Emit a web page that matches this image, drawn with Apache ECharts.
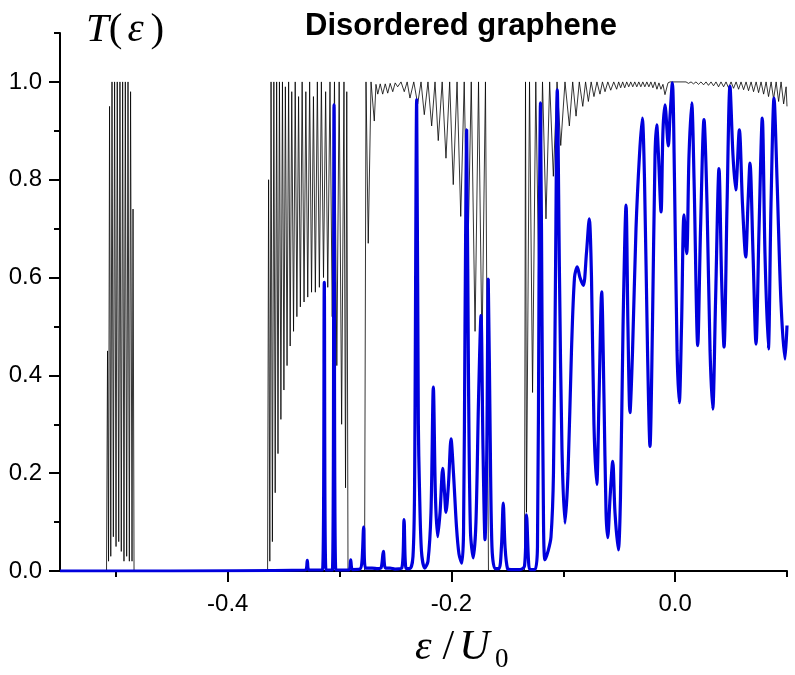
<!DOCTYPE html>
<html><head><meta charset="utf-8">
<script src="https://cdn.jsdelivr.net/npm/echarts@6.0.0/dist/echarts.min.js"></script>
<style>html,body{margin:0;padding:0;background:#fff}#c{width:795px;height:675px}</style>
</head><body><div id="c"></div>
<script>
// tick positions
const xLabelTicks = [-0.4, -0.2, 0.0];
const xMinorTicks = [-0.5, -0.3, -0.1, 0.1];
const yLabelTicks = [0, 0.2, 0.4, 0.6, 0.8, 1.0];
const yMinorTicks = [0.1, 0.3, 0.5, 0.7, 0.9, 1.1];

// thin black curve (ordered reference)
const blackE = [-0.55,-0.5084,-0.5075,-0.5066,-0.5057,-0.5046,-0.5035,-0.5023,-0.5012,-0.4999,-0.4988,-0.4975,-0.4964,-0.4952,-0.4940,-0.4928,-0.4916,-0.4904,-0.4892,-0.4880,-0.4869,-0.4856,-0.4847,-0.4838,
-0.3644,-0.3635,-0.3624,-0.3613,-0.3601,-0.3588,-0.3576,-0.3563,-0.3551,-0.3538,-0.3525,-0.3511,-0.3498,-0.3485,-0.3470,-0.3456,-0.3442,-0.3428,-0.3412,-0.3397,-0.3382,-0.3367,-0.3351,-0.3335,-0.3318,-0.3302,-0.3285,-0.3268,-0.3251,-0.3234,-0.3217,-0.3199,-0.3181,-0.3163,-0.3144,-0.3125,-0.3106,-0.3086,-0.3066,-0.3046,-0.3025,-0.3004,-0.2982,-0.2961,-0.2947,-0.2936,-0.2925,
-0.2777,-0.2764,-0.2744,-0.2719,-0.2690,-0.2675,-0.2659,-0.2637,-0.2615,-0.2592,-0.2570,-0.2548,-0.2525,-0.2503,-0.2481,-0.2451,-0.2422,-0.2396,-0.2371,-0.2337,-0.2302,-0.2272,-0.2243,-0.2210,-0.2177,-0.2147,-0.2118,-0.2083,-0.2049,-0.2016,-0.1984,-0.1950,-0.1917,-0.1886,-0.1855,-0.1823,-0.1789,-0.1758,-0.1727,-0.1696,-0.1669,
-0.1347,-0.1338,-0.1329,-0.1302,-0.1275,-0.1246,-0.1217,-0.1186,-0.1155,-0.1122,-0.1089,-0.1056,-0.1023,-0.0985,-0.0946,-0.0916,-0.0886,-0.0857,-0.0826,-0.0801,-0.0776,-0.0751,-0.0726,-0.0699,-0.0672,-0.0650,-0.0627,-0.0602,-0.0576,-0.0549,-0.0523,
-0.0505,-0.0487,-0.0469,-0.0451,-0.0433,-0.0415,-0.0397,-0.0379,-0.0361,-0.0343,-0.0325,-0.0307,-0.0289,-0.0271,-0.0253,-0.0235,-0.0217,-0.0199,-0.0181,-0.0163,-0.0145,-0.0127,-0.0109,-0.0091,-0.0064,-0.0046,
0.0097,0.0119,0.0142,0.0164,0.0186,0.0209,0.0231,0.0254,0.0276,0.0298,0.0321,0.0343,0.0365,0.0388,0.0410,0.0433,0.0455,0.0477,0.0500,0.0522,0.0545,0.0567,0.0589,0.0612,0.0634,0.0656,0.0679,0.0701,0.0724,0.0746,0.0768,0.0791,0.0813,0.0835,0.0858,0.0880,0.0903,0.0925,0.0947,0.0970,0.0992,0.1000];
const blackT = [0,0,0.45,0.02,0.95,0.03,1.0,0.07,1.0,0.05,1.0,0.06,1.0,0.04,1.0,0.02,1.0,0.03,1.0,0.02,0.98,0.02,0.74,0,
0,0.8,0.02,1.0,0.06,1.0,0.16,1.0,0.24,1.0,0.31,1.0,0.37,0.99,0.42,1.0,0.46,0.98,0.49,1.0,0.52,0.97,0.54,1.0,0.55,0.98,0.56,1.0,0.57,0.97,0.57,1.0,0.58,1.0,0.60,0.98,0.58,1.0,0.52,1.0,0.42,1.0,0.30,1.0,0.17,0.98,0,
0,1.0,0.67,1.0,0.92,0.995,0.975,0.996,0.975,0.996,0.977,0.997,0.98,0.998,0.99,1.0,0.98,1.0,0.967,1.0,0.955,1.0,0.933,1.0,0.91,1.0,0.88,1.0,0.844,1.0,0.79,1.0,0.725,1.0,0.62,1.0,0.49,1.0,0.45,1.0,0,
0,1.0,0.12,1.0,0.365,1.0,0.56,1.0,0.72,1.0,0.807,1.0,0.87,1.0,0.91,1.0,0.93,1.0,0.95,1.0,0.96,1.0,0.97,1.0,0.975,1.0,0.98,1.0,0.983,1.0,0.985,
1.0,0.988,1.0,0.988,1.0,0.99,1.0,0.99,1.0,0.99,1.0,0.99,1.0,0.99,1.0,0.99,1.0,0.988,1.0,0.985,0.998,0.985,0.995,0.974,0.998,1.0,
1.0,0.997,1.0,0.996,1.0,0.995,1.0,0.994,1.0,0.993,1.0,0.992,1.0,0.99,1.0,0.99,1.0,0.988,1.0,0.987,1.0,0.985,1.0,0.984,1.0,0.982,1.0,0.98,1.0,0.978,1.0,0.975,1.0,0.97,1.0,0.965,1.0,0.96,1.0,0.955,0.99,0.95];

// thick blue curve (disordered graphene)
const blueE = [-0.55,-0.3305,-0.3289,-0.3274,-0.3153,-0.3137,-0.3122,-0.3065,-0.3050,-0.3034,-0.2916,-0.2901,-0.2885,-0.2818,-0.2800,-0.2785,-0.2769,-0.2710,-0.2657,-0.2630,-0.2609,-0.2590,-0.2549,-0.2505,-0.2444,-0.2424,-0.2405,
-0.2371,-0.2344,-0.2330,-0.2311,-0.2296,-0.2286,-0.2268,-0.2239,-0.2210,-0.2183,-0.2162,-0.2143,-0.2123,-0.2102,-0.2078,-0.2062,-0.2049,-0.2026,-0.2004,-0.1982,-0.1955,-0.1933,-0.1908,-0.1892,-0.1879,-0.1864,-0.1848,-0.1830,-0.1805,-0.1781,-0.1758,-0.1736,-0.1718,-0.1700,-0.1684,-0.1671,-0.1655,-0.1638,-0.1611,-0.1575,-0.1553,-0.1537,-0.1521,-0.1499,-0.1468,-0.1387,
-0.1347,-0.1329,-0.1311,-0.1298,-0.1253,-0.1231,-0.1217,-0.1204,-0.1190,-0.1177,-0.1164,-0.1137,-0.1110,-0.1088,-0.1070,-0.1054,-0.1034,-0.1012,-0.0985,-0.0958,-0.0927,-0.0900,-0.0875,-0.0851,-0.0821,-0.0793,-0.0768,-0.0748,-0.0726,-0.0701,-0.0681,-0.0657,-0.0636,-0.0618,-0.0603,-0.0582,-0.0558,-0.0538,-0.0508,-0.0489,-0.0466,-0.0439,-0.0422,-0.0404,-0.0381,-0.0350,-0.0319,-0.0294,-0.0274,-0.0247,-0.0225,-0.0203,-0.0180,-0.0165,-0.0149,-0.0126,-0.0109,-0.0091,-0.0061,-0.0046,-0.0025,-0.0006,
0.0017,0.0037,0.0057,0.0079,0.0103,0.0124,0.0148,0.0169,0.0202,0.0227,0.0258,0.0285,0.0312,0.0336,0.0361,0.0392,0.0415,0.0437,0.0464,0.0490,0.0517,0.0541,0.0574,0.0602,0.0631,0.0651,0.0669,0.0696,0.0723,0.0750,0.0779,0.0803,0.0833,0.0857,0.0884,0.0911,0.0946,0.0982,0.1000];
const blueT = [0,0.002,0.022,0.002,0.002,0.59,0.002,0.002,0.953,0.002,0.002,0.023,0.003,0.004,0.02,0.09,0.006,0.006,0.005,0.006,0.04,0.006,0.006,0.004,0.006,0.105,0.005,
0.005,0.03,0.166,0.964,0.3,0.17,0.04,0.006,0.02,0.12,0.376,0.15,0.07,0.12,0.21,0.16,0.12,0.18,0.27,0.2,0.09,0.035,0.016,0.08,0.5,0.902,0.4,0.08,0.027,0.1,0.35,0.522,0.25,0.064,0.25,0.597,0.3,0.05,0.005,0.005,0.05,0.139,0.05,0.005,0.003,0.003,
0.01,0.115,0.02,0.003,0.003,0.05,0.6,0.957,0.5,0.1,0.023,0.04,0.07,0.2,0.6,0.984,0.6,0.25,0.098,0.2,0.45,0.6,0.622,0.6,0.584,0.65,0.72,0.6,0.3,0.177,0.35,0.571,0.35,0.12,0.068,0.15,0.224,0.12,0.043,0.15,0.5,0.748,0.5,0.324,0.45,0.7,0.85,0.926,0.8,0.45,0.255,0.5,0.85,0.912,0.85,0.734,0.9,0.953,0.869,0.93,0.998,0.8,
0.45,0.344,0.5,0.728,0.649,0.85,0.957,0.8,0.461,0.7,0.923,0.75,0.45,0.331,0.55,0.823,0.6,0.458,0.75,0.991,0.85,0.779,0.902,0.75,0.642,0.75,0.834,0.65,0.464,0.7,0.926,0.65,0.454,0.75,0.967,0.8,0.55,0.433,0.502];

const blackData = blackE.map((e, i) => [e, blackT[i]]);
const blueData = blueE.map((e, i) => [e, blueT[i]]);

const chart = echarts.init(document.getElementById('c'));
const axisColor = '#000';
const tickFont = {fontFamily: '"Liberation Sans", Arial, sans-serif', fontSize: 24, color: '#000'};
const serif = '"Liberation Serif", "Times New Roman", serif';

chart.setOption({
  animation: false,
  backgroundColor: '#fff',
  title: {
    text: 'Disordered graphene', left: 456, top: 6, textAlign: 'center',
    textStyle: {fontFamily: '"Liberation Sans", Arial, sans-serif', fontWeight: 'bold', fontSize: 31, color: '#000'}
  },
  grid: {left: 60, right: 8, top: 33, bottom: 104, containLabel: false},
  xAxis: [
    {type: 'value', min: -0.55, max: 0.1, position: 'bottom',
     axisLine: {show: true, onZero: false, lineStyle: {color: axisColor, width: 2}},
     axisTick: {show: true, customValues: xLabelTicks, length: 11, lineStyle: {color: axisColor, width: 2}},
     axisLabel: Object.assign({customValues: xLabelTicks, margin: 21, formatter: v => v.toFixed(1)}, tickFont),
     splitLine: {show: false}},
    {type: 'value', min: -0.55, max: 0.1, position: 'bottom',
     axisLine: {show: false, onZero: false},
     axisTick: {show: true, customValues: xMinorTicks, length: 6, lineStyle: {color: axisColor, width: 2}},
     axisLabel: {show: false}, splitLine: {show: false}}
  ],
  yAxis: [
    {type: 'value', min: 0, max: 1.1, position: 'left',
     axisLine: {show: true, onZero: false, lineStyle: {color: axisColor, width: 2}},
     axisTick: {show: true, customValues: yLabelTicks, length: 11, lineStyle: {color: axisColor, width: 2}},
     axisLabel: Object.assign({customValues: yLabelTicks, margin: 18, formatter: v => v.toFixed(1)}, tickFont),
     splitLine: {show: false}},
    {type: 'value', min: 0, max: 1.1, position: 'left',
     axisLine: {show: false, onZero: false},
     axisTick: {show: true, customValues: yMinorTicks, length: 6, lineStyle: {color: axisColor, width: 2}},
     axisLabel: {show: false}, splitLine: {show: false}}
  ],
  graphic: [
    {type: 'text', left: 86, top: 10,
     style: {text: '{i|T}{n|(}{e|ε}{n|)}',
       rich: {
         i: {fontFamily: serif, fontStyle: 'italic', fontSize: 41, fill: '#000'},
         e: {fontFamily: serif, fontStyle: 'italic', fontSize: 41, fill: '#000', padding: [0, 7, 0, 5]},
         n: {fontFamily: serif, fontSize: 41, fill: '#000'}
       }}},
    {type: 'text', left: 415, top: 627,
     style: {text: '{e|ε}{n|/}{i|U}',
       rich: {
         e: {fontFamily: serif, fontStyle: 'italic', fontSize: 42, fill: '#000', padding: [0, 11, 0, 0]},
         n: {fontFamily: serif, fontSize: 42, fill: '#000', padding: [0, 5, 0, 0]},
         i: {fontFamily: serif, fontStyle: 'italic', fontSize: 42, fill: '#000'}
       }}},
    {type: 'text', left: 495, top: 646,
     style: {text: '0', fontFamily: serif, fontSize: 27, fill: '#000'}}
  ],
  series: [
    {type: 'line', name: 'T ordered', xAxisIndex: 0, yAxisIndex: 0, data: blackData,
     symbol: 'none', lineStyle: {color: '#000', width: 0.8}, z: 2},
    {type: 'line', name: 'T disordered', xAxisIndex: 0, yAxisIndex: 0, data: blueData,
     symbol: 'none', smooth: 0.3, lineStyle: {color: '#0000dd', width: 3.2}, z: 3}
  ]
});
</script>
</body></html>
